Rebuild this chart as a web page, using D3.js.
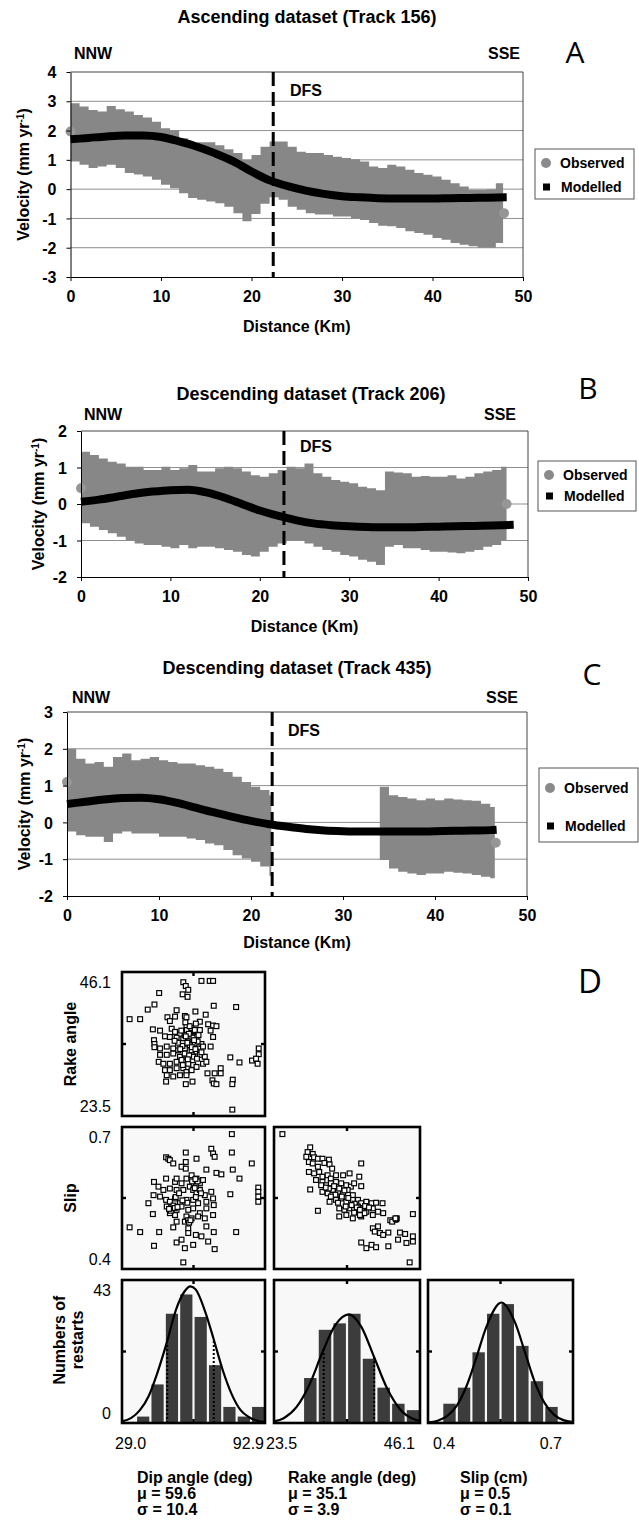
<!DOCTYPE html>
<html>
<head>
<meta charset="utf-8">
<script src="https://cdn.jsdelivr.net/npm/d3@7/dist/d3.min.js"></script>
<style>
  body { margin: 0; background: #fff; }
</style>
</head>
<body>
<svg id="fig" width="639" height="1522"></svg>
<script>
const FONT = '"Liberation Sans", Arial, sans-serif';

// distance ticks shared by the three profiles
const xTicks = [0, 10, 20, 30, 40, 50];

// ---- A : ascending dataset, track 156
const yTicksA = [-3, -2, -1, 0, 1, 2, 3, 4];
const kmA = [0,1,2,3,4,5,6,7,8,9,10,11,12,13,14,15,16,17,18,19,20,21,22,23,24,25,26,27,28,29,30,31,32,33,34,35,36,37,38,39,40,41,42,43,44,45,46,47,47.8];
const upA = [2.93,2.82,2.7,2.65,2.84,2.73,2.65,2.53,2.45,2.3,2.08,2.0,1.74,1.57,1.6,1.6,1.5,1.36,1.23,1.0,1.17,1.45,1.63,1.63,1.45,1.28,1.23,1.23,1.17,1.11,1.06,1.02,0.94,0.77,0.72,0.83,0.77,0.66,0.55,0.49,0.43,0.32,0.2,0.09,-0.02,-0.02,0.0,0.2,0.1];
const loA = [0.94,0.83,0.72,0.77,0.83,0.72,0.55,0.5,0.43,0.32,0.15,0.03,-0.14,-0.3,-0.36,-0.42,-0.48,-0.6,-0.82,-1.1,-0.85,-0.5,-0.28,-0.36,-0.6,-0.7,-0.82,-0.87,-0.87,-0.93,-0.93,-1.0,-1.05,-1.16,-1.25,-1.27,-1.33,-1.44,-1.5,-1.56,-1.67,-1.73,-1.84,-1.9,-1.95,-2.0,-2.0,-1.84,-1.8];
const obsA = [[0, 1.97], [47.9, -0.82]];
const kmModA = [0,2,4,6,8,10,12,14,16,18,20,22,24,26,28,30,32,34,36,38,40,42,44,46,48.2];
const modA = [1.7,1.75,1.8,1.83,1.83,1.78,1.63,1.45,1.22,0.95,0.6,0.3,0.1,-0.05,-0.16,-0.24,-0.28,-0.31,-0.32,-0.32,-0.32,-0.31,-0.3,-0.29,-0.28];

// ---- B : descending dataset, track 206
const yTicksB = [-2, -1, 0, 1, 2];
const kmB = [0,1,2,3,4,5,6,7,8,9,10,11,12,13,14,15,16,17,18,19,20,21,22,23,24,25,26,27,28,29,30,31,32,33,34,35,36,37,38,39,40,41,42,43,44,45,46,47,47.6];
const upB = [1.43,1.34,1.25,1.16,1.11,1.02,1.02,0.93,0.93,1.02,0.93,0.98,1.07,0.89,0.89,0.98,1.02,0.98,0.89,0.79,0.75,0.84,0.93,1.02,0.98,1.11,0.84,0.75,0.66,0.61,0.57,0.47,0.43,0.38,0.89,0.86,0.84,0.75,0.77,0.75,0.75,0.79,0.7,0.75,0.84,0.89,0.93,1.02,1.0];
const loB = [-0.53,-0.62,-0.71,-0.8,-0.9,-0.99,-1.08,-1.12,-1.12,-1.17,-1.21,-1.12,-1.21,-1.17,-1.17,-1.21,-1.26,-1.31,-1.4,-1.44,-1.31,-1.17,-1.08,-0.99,-0.99,-1.08,-1.17,-1.26,-1.31,-1.4,-1.44,-1.53,-1.58,-1.67,-1.17,-1.12,-1.21,-1.21,-1.26,-1.31,-1.31,-1.33,-1.35,-1.31,-1.26,-1.17,-1.12,-0.99,-1.0];
const obsB = [[0, 0.43], [47.6, 0.0]];
const kmModB = [0,2,4,6,8,10,12,14,16,18,20,22,24,26,28,30,32,34,36,38,40,42,44,46,48.4];
const modB = [0.06,0.12,0.2,0.28,0.34,0.38,0.39,0.32,0.18,0.0,-0.18,-0.32,-0.44,-0.53,-0.58,-0.61,-0.63,-0.64,-0.64,-0.63,-0.62,-0.61,-0.6,-0.59,-0.57];

// ---- C : descending dataset, track 435 (two data segments)
const yTicksC = [-2, -1, 0, 1, 2, 3];
const kmC1 = [0,1,2,3,4,5,6,7,8,9,10,11,12,13,14,15,16,17,18,19,20,21,22,22.2];
const upC1 = [2.0,1.73,1.6,1.64,1.51,1.78,1.87,1.69,1.73,1.78,1.69,1.64,1.6,1.6,1.55,1.51,1.46,1.37,1.24,1.1,0.97,0.88,0.74,0.7];
const loC1 = [-0.25,-0.35,-0.39,-0.39,-0.53,-0.3,-0.25,-0.3,-0.3,-0.3,-0.39,-0.39,-0.39,-0.44,-0.48,-0.57,-0.62,-0.75,-0.89,-0.98,-1.07,-1.2,-1.45,-1.6];
const kmC2 = [34,35,36,37,38,39,40,41,42,43,44,45,46,46.5];
const upC2 = [0.97,0.74,0.69,0.65,0.6,0.65,0.6,0.65,0.62,0.6,0.59,0.51,0.42,0.42];
const loC2 = [-1.02,-1.25,-1.34,-1.39,-1.43,-1.39,-1.39,-1.34,-1.37,-1.39,-1.43,-1.48,-1.52,-1.52];
const obsC = [[0, 1.1], [46.6, -0.55]];
const kmModC = [0,2,4,6,8,10,12,14,16,18,20,22,24,26,28,30,32,34,36,38,40,42,44,46,46.7];
const modC = [0.5,0.56,0.62,0.66,0.67,0.63,0.53,0.4,0.27,0.15,0.04,-0.05,-0.12,-0.18,-0.22,-0.24,-0.25,-0.25,-0.25,-0.25,-0.24,-0.23,-0.22,-0.21,-0.2];

// ---- D : inversion restarts
const dipRange = [29.0, 92.9];
const rakeRange = [23.5, 46.1];
const slipRange = [0.4, 0.7];
const countRange = [0, 44.5];

const scatterDipRake = [[56.4,44.5],[57.5,43.9],[58.6,43.3],[64.5,44.7],[68.2,44.7],[69.7,44.7],[56.1,42.6],[58.3,42.2],[45.6,42.8],[43.5,41.0],[40.5,40.2],[32.4,38.7],[37.1,38.7],[53.4,40.1],[61.8,39.9],[66.4,39.4],[70.0,40.8],[80.0,40.6],[49.3,39.0],[50.4,38.4],[52.7,39.1],[57.1,39.2],[57.8,39.0],[63.8,38.3],[67.5,37.9],[69.7,37.7],[71.2,37.6],[42.8,37.1],[46.0,36.9],[51.2,37.2],[52.7,36.7],[54.9,36.3],[58.6,36.7],[59.8,37.1],[60.8,36.4],[62.3,35.9],[63.8,37.0],[68.6,36.9],[69.7,35.9],[48.2,36.0],[50.4,35.9],[53.4,35.8],[56.4,35.7],[58.6,35.4],[60.1,35.1],[61.5,34.9],[64.5,34.8],[43.3,35.4],[43.5,34.8],[43.5,34.3],[46.0,34.1],[49.0,34.4],[51.9,34.1],[54.1,33.8],[57.1,34.1],[60.1,33.8],[62.3,33.6],[65.2,34.4],[68.6,34.4],[46.0,33.1],[49.0,33.1],[51.9,33.3],[54.9,32.8],[57.8,32.8],[60.8,32.8],[63.8,33.1],[66.0,32.8],[45.4,32.0],[47.5,31.7],[50.4,31.7],[53.4,32.0],[55.6,32.3],[58.6,31.7],[60.8,31.5],[62.3,31.2],[65.2,31.7],[66.7,32.0],[77.4,32.7],[81.5,31.9],[87.1,32.2],[89.6,31.7],[90.1,33.2],[90.1,34.1],[88.9,32.5],[48.2,30.7],[50.4,30.7],[53.4,31.0],[56.4,31.0],[57.8,30.4],[60.1,30.7],[49.0,29.9],[51.9,29.7],[54.9,29.9],[57.8,29.9],[48.7,28.9],[57.5,28.5],[60.5,28.9],[67.2,30.2],[70.4,30.2],[73.1,31.0],[73.1,30.2],[69.4,29.1],[70.0,28.6],[71.2,28.5],[78.5,29.2],[78.3,28.5],[78.3,24.5],[57.0,36.2],[59.0,35.6],[61.0,36.8],[56.0,34.5],[59.3,34.6],[62.8,35.2],[57.8,37.6],[55.5,36.9],
  [58.0,37.0],[59.5,36.0],[60.5,35.8],[61.2,35.4],[58.9,36.4],[57.5,36.0],[60.0,37.3],[61.5,37.0],[59.2,37.6],[58.2,35.0],[60.2,34.3],[61.8,34.0],[57.0,33.3],[59.0,33.0],[62.5,32.5],[56.2,31.5],[58.4,32.4],[54.0,35.0],[55.0,34.0],[52.5,35.3],[63.2,36.2],[62.0,38.0],[64.5,33.5],[57.3,38.2]];

const scatterDipSlip = [[78.1,0.685],[57.5,0.646],[48.7,0.636],[49.7,0.633],[50.4,0.630],[51.9,0.623],[57.5,0.626],[62.3,0.633],[68.9,0.654],[69.7,0.644],[70.4,0.637],[78.1,0.646],[87.0,0.623],[55.6,0.616],[57.5,0.612],[66.7,0.610],[71.2,0.603],[73.4,0.600],[78.5,0.610],[81.5,0.591],[48.7,0.591],[52.7,0.584],[53.4,0.591],[55.6,0.581],[57.8,0.591],[60.1,0.598],[62.3,0.591],[63.8,0.581],[65.2,0.588],[43.3,0.584],[45.3,0.574],[47.5,0.567],[50.4,0.570],[53.4,0.567],[56.4,0.567],[59.3,0.574],[60.8,0.567],[62.3,0.560],[63.8,0.567],[66.0,0.556],[68.9,0.563],[69.7,0.549],[43.1,0.556],[46.0,0.553],[48.7,0.546],[50.4,0.542],[52.7,0.549],[54.9,0.539],[57.8,0.546],[60.8,0.546],[63.0,0.539],[66.7,0.542],[70.0,0.535],[77.4,0.558],[89.9,0.572],[89.9,0.563],[89.9,0.553],[89.9,0.542],[40.8,0.539],[49.0,0.532],[51.2,0.528],[53.4,0.525],[55.6,0.532],[58.6,0.525],[60.8,0.528],[63.8,0.518],[66.7,0.528],[42.8,0.516],[50.4,0.518],[52.7,0.514],[57.8,0.511],[60.1,0.507],[63.0,0.511],[66.0,0.507],[69.7,0.514],[53.4,0.500],[57.1,0.500],[32.4,0.488],[37.1,0.478],[45.6,0.478],[51.9,0.488],[58.6,0.486],[66.7,0.490],[70.0,0.478],[80.0,0.478],[58.6,0.476],[62.0,0.472],[64.5,0.469],[67.5,0.458],[43.3,0.449],[53.4,0.456],[55.6,0.462],[57.1,0.444],[60.8,0.451],[70.4,0.442],[56.4,0.414],
  [61.0,0.580],[62.0,0.575],[61.5,0.571],[60.3,0.585],[62.8,0.585],[61.8,0.590],[51.0,0.530],[52.0,0.534],[50.8,0.523],[52.6,0.529],[53.8,0.531],[50.0,0.527],[58.5,0.503],[59.0,0.498],[59.6,0.503],[58.2,0.540],[56.0,0.545],[62.0,0.552],[64.3,0.560],[53.0,0.552],[54.5,0.560]];

const scatterRakeSlip = [[24.8,0.685],[29.1,0.657],[28.7,0.647],[28.5,0.637],[29.5,0.643],[29.7,0.636],[30.3,0.633],[31.0,0.633],[32.0,0.631],[28.9,0.626],[29.5,0.623],[30.3,0.616],[31.3,0.624],[32.1,0.621],[32.5,0.612],[37.0,0.623],[28.9,0.605],[29.7,0.602],[30.5,0.605],[31.0,0.595],[31.8,0.598],[32.3,0.591],[33.1,0.598],[34.2,0.598],[35.2,0.602],[36.7,0.595],[30.0,0.588],[31.0,0.584],[31.6,0.577],[32.3,0.581],[33.1,0.584],[33.9,0.581],[34.7,0.577],[35.4,0.574],[35.9,0.581],[37.0,0.575],[29.1,0.568],[31.0,0.563],[31.8,0.560],[32.6,0.567],[33.4,0.563],[34.2,0.560],[34.9,0.567],[35.7,0.556],[32.1,0.542],[33.1,0.546],[33.9,0.549],[34.7,0.542],[35.7,0.546],[36.5,0.546],[37.0,0.539],[37.8,0.542],[38.6,0.539],[39.3,0.540],[40.3,0.539],[30.3,0.523],[33.6,0.528],[34.4,0.525],[35.2,0.528],[35.9,0.525],[36.5,0.532],[37.3,0.528],[37.8,0.521],[38.8,0.528],[39.6,0.521],[40.4,0.518],[33.6,0.511],[34.7,0.514],[35.7,0.507],[37.0,0.511],[37.5,0.518],[38.8,0.514],[42.5,0.507],[42.2,0.504],[45.0,0.516],[38.8,0.486],[39.6,0.490],[39.1,0.479],[39.9,0.476],[41.2,0.477],[40.4,0.472],[43.0,0.477],[43.8,0.474],[45.0,0.469],[42.7,0.462],[45.0,0.458],[44.0,0.455],[37.0,0.456],[37.8,0.444],[38.6,0.451],[39.3,0.446],[41.2,0.448],[44.5,0.414],
  [32.0,0.570],[32.8,0.575],[33.6,0.570],[34.4,0.566],[33.0,0.557],[32.3,0.553],[34.0,0.553],[35.0,0.550],[36.0,0.538],[36.3,0.530],[36.8,0.525],[35.5,0.535],[34.6,0.532],[37.6,0.533],[38.2,0.530],[33.4,0.540],[31.5,0.572],[30.8,0.577],[35.9,0.519],[36.8,0.514],[41.5,0.503],[41.8,0.500],[42.4,0.505],[42.3,0.507]];

// histogram counts, 10 equal bins over each range
const countsDip = [0, 2, 12, 34, 40, 33, 18, 5, 2, 5];
const countsRake = [0, 0, 14, 29, 31, 34, 20, 11, 6, 4];
const countsSlip = [0, 6, 11, 22, 34, 37, 24, 13, 5, 0];

// fitted curves
const curveDipX = [29, 33, 37, 41, 45, 49, 53, 57, 59.6, 62, 66, 70, 74, 78, 82, 86, 90, 92.9];
const curveDipY = [0.5, 1.5, 4, 8.5, 16, 25, 35, 41, 42.5, 41.5, 35, 26, 16.5, 9, 4, 1.7, 0.6, 0.3];
const curveRakeX = [23.5, 25, 27, 29, 31, 33, 35.1, 37, 39, 41, 43, 45, 46.1];
const curveRakeY = [0.5, 1.5, 5, 12, 22, 30.5, 33.8, 30, 20.5, 10.8, 4.3, 1.3, 0.6];
const curveSlipX = [0.4, 0.42, 0.44, 0.46, 0.48, 0.5, 0.52, 0.552, 0.58, 0.6, 0.62, 0.64, 0.66, 0.68, 0.7];
const curveSlipY = [0.2, 0.7, 2.2, 5.5, 11.6, 20.3, 29.6, 37.5, 31.3, 22.3, 13.1, 6.5, 2.7, 0.9, 0.3];

// mean +/- one sigma markers (position, height)
const sdDip = [[49.2, 25], [70.0, 26]];
const sdRake = [[31.2, 23], [39.0, 20.5]];

const yLabelsD = [['46.1', '23.5'], ['0.7', '0.4'], ['43', '0']];
const xLabelsD = [['29.0', '92.9'], ['23.5', '46.1'], ['0.4', '0.7']];
const captions = [
  ['Dip angle (deg)', 'μ = 59.6', 'σ = 10.4'],
  ['Rake angle (deg)', 'μ = 35.1', 'σ = 3.9'],
  ['Slip (cm)', 'μ = 0.5', 'σ = 0.1']
];

const svg = d3.select('#fig');

function boldText(g, x, y, str, size, anchor) {
  return g.append('text')
    .attr('x', x).attr('y', y)
    .attr('dy', '0.35em')
    .attr('text-anchor', anchor || 'start')
    .attr('font-family', FONT)
    .attr('font-weight', 'bold')
    .attr('font-size', size)
    .text(str);
}

function styleAxis(a) {
  a.attr('font-family', FONT).attr('font-size', 16).attr('font-weight', 'bold');
  a.select('.domain').attr('stroke', '#000');
  a.selectAll('.tick line').attr('stroke', '#000');
}

function drawProfile(p) {
  const g = svg.append('g');
  const x = d3.scaleLinear().domain([0, 50]).range([p.left, p.right]);
  const y = d3.scaleLinear().domain(d3.extent(p.yTicks)).range([p.bottom, p.top]);

  g.selectAll('.grid')
    .data(p.yTicks.slice(1, -1))
    .enter()
    .append('line')
    .attr('x1', p.left).attr('x2', p.right)
    .attr('y1', d => y(d)).attr('y2', d => y(d))
    .attr('stroke', '#8f8f8f')
    .attr('stroke-width', 1);

  g.append('path')
    .attr('d', `M${p.left},${p.top}H${p.right}V${p.bottom}`)
    .attr('fill', 'none')
    .attr('stroke', '#444');

  const band = d3.area()
    .curve(d3.curveStepAfter)
    .x(d => x(d[0]))
    .y0(d => y(d[2]))
    .y1(d => y(d[1]));

  p.bands.forEach(b => {
    g.append('path')
      .datum(d3.zip(b[0], b[1], b[2]))
      .attr('d', band)
      .attr('fill', '#878787');
  });

  g.selectAll('.obs')
    .data(p.obs)
    .enter()
    .append('circle')
    .attr('cx', d => x(d[0])).attr('cy', d => y(d[1]))
    .attr('r', 5)
    .attr('fill', '#969696');

  const model = d3.line().curve(d3.curveMonotoneX).x(d => x(d[0])).y(d => y(d[1]));
  g.append('path')
    .datum(d3.zip(p.modKm, p.mod))
    .attr('d', model)
    .attr('fill', 'none')
    .attr('stroke', '#000')
    .attr('stroke-width', 8);

  g.append('line')
    .attr('x1', x(p.dfs)).attr('x2', x(p.dfs))
    .attr('y1', p.top).attr('y2', p.bottom)
    .attr('stroke', '#000')
    .attr('stroke-width', 3)
    .attr('stroke-dasharray', '14,6');
  boldText(g, p.dfsLabel[0], p.dfsLabel[1], 'DFS', 16);

  const ax = g.append('g')
    .attr('transform', `translate(0,${p.bottom})`)
    .call(d3.axisBottom(x).tickValues(xTicks).tickSize(4).tickSizeOuter(0).tickFormat(d => String(d)));
  styleAxis(ax);
  ax.selectAll('text').attr('y', 19).attr('dy', '0.35em');

  const ay = g.append('g')
    .attr('transform', `translate(${p.left},0)`)
    .call(d3.axisLeft(y).tickValues(p.yTicks).tickSize(4).tickSizeOuter(0).tickFormat(d => String(d)));
  styleAxis(ay);
  ay.selectAll('text').attr('x', -14).attr('dy', '0.35em');

  boldText(g, (p.left + p.right) / 2, p.bottom + p.distDy, 'Distance (Km)', 16, 'middle');

  const vl = g.append('text')
    .attr('transform', `translate(${p.velX},${(p.top + p.bottom) / 2}) rotate(-90)`)
    .attr('dy', '0.35em')
    .attr('text-anchor', 'middle')
    .attr('font-family', FONT).attr('font-weight', 'bold').attr('font-size', 16);
  vl.append('tspan').text('Velocity (mm yr');
  vl.append('tspan').attr('font-size', 10).attr('baseline-shift', 'super').text('-1');
  vl.append('tspan').text(')');

  boldText(g, p.titleX, p.titleY, p.title, 18, 'middle');
  boldText(g, p.nnwX, p.dirY, 'NNW', 16);
  boldText(g, p.sseX, p.dirY, 'SSE', 16, 'end');

  g.append('text')
    .attr('x', p.letter[0]).attr('y', p.letter[1])
    .attr('dy', '0.35em')
    .attr('text-anchor', 'middle')
    .attr('font-family', '"Open Sans", "DejaVu Sans", sans-serif')
    .attr('font-size', 30)
    .text(p.letter[2]);

  const L = p.legend;
  g.append('rect')
    .attr('x', L.x).attr('y', L.y).attr('width', L.w).attr('height', L.h)
    .attr('fill', '#fff').attr('stroke', '#555');
  g.append('circle')
    .attr('cx', L.x + 11).attr('cy', L.obsY).attr('r', 5).attr('fill', '#8a8a8a');
  g.append('rect')
    .attr('x', L.x + 8).attr('y', L.modY - 3.5).attr('width', 7).attr('height', 7).attr('fill', '#000');
  boldText(g, L.x + 25, L.obsY, 'Observed', 14);
  boldText(g, L.x + 26, L.modY, 'Modelled', 14);
}

drawProfile({
  left: 70.5, right: 523, top: 72, bottom: 277, yTicks: yTicksA,
  bands: [[kmA, upA, loA]], obs: obsA, modKm: kmModA, mod: modA,
  dfs: 22.4, dfsLabel: [290, 90], distDy: 49, velX: 23,
  title: 'Ascending dataset (Track 156)', titleX: 307, titleY: 17,
  nnwX: 74, sseX: 520, dirY: 53, letter: [575, 52, 'A'],
  legend: { x: 535, y: 149, w: 99, h: 50, obsY: 163, modY: 187 }
});

drawProfile({
  left: 81, right: 528, top: 431, bottom: 577, yTicks: yTicksB,
  bands: [[kmB, upB, loB]], obs: obsB, modKm: kmModB, mod: modB,
  dfs: 22.7, dfsLabel: [300, 446], distDy: 49, velX: 38,
  title: 'Descending dataset (Track 206)', titleX: 311, titleY: 394,
  nnwX: 84, sseX: 516, dirY: 414, letter: [588, 388, 'B'],
  legend: { x: 538, y: 461, w: 98, h: 50, obsY: 475, modY: 496 }
});

drawProfile({
  left: 67, right: 527, top: 712, bottom: 896, yTicks: yTicksC,
  bands: [[kmC1, upC1, loC1], [kmC2, upC2, loC2]], obs: obsC, modKm: kmModC, mod: modC,
  dfs: 22.3, dfsLabel: [288, 730], distDy: 46, velX: 24,
  title: 'Descending dataset (Track 435)', titleX: 297, titleY: 668,
  nnwX: 72, sseX: 518, dirY: 697, letter: [592, 674, 'C'],
  legend: { x: 539, y: 768, w: 99, h: 74, obsY: 788, modY: 826 }
});

// ---- panel D
const cols = [{ x0: 122, x1: 265 }, { x0: 274, x1: 420 }, { x0: 428, x1: 573 }];
const rows = [{ y0: 972, y1: 1116 }, { y0: 1127, y1: 1269 }, { y0: 1280, y1: 1423 }];
const dg = svg.append('g');

const xDip = d3.scaleLinear().domain(dipRange).range([cols[0].x0, cols[0].x1]);
const xRake = d3.scaleLinear().domain(rakeRange).range([cols[1].x0, cols[1].x1]);
const xSlip = d3.scaleLinear().domain(slipRange).range([cols[2].x0, cols[2].x1]);
const yRake = d3.scaleLinear().domain(rakeRange).range([rows[0].y1, rows[0].y0]);
const ySlip = d3.scaleLinear().domain(slipRange).range([rows[1].y1, rows[1].y0]);
const yCount = d3.scaleLinear().domain(countRange).range([rows[2].y1, rows[2].y0]);

function boxBg(c, r) {
  dg.append('rect')
    .attr('x', c.x0).attr('y', r.y0).attr('width', c.x1 - c.x0).attr('height', r.y1 - r.y0)
    .attr('fill', '#f8f8f8');
}
function boxFrame(c, r) {
  dg.append('rect')
    .attr('x', c.x0).attr('y', r.y0).attr('width', c.x1 - c.x0).attr('height', r.y1 - r.y0)
    .attr('fill', 'none').attr('stroke', '#000').attr('stroke-width', 2.6);
  const cx = (c.x0 + c.x1) / 2, cy = (r.y0 + r.y1) / 2;
  const marks = [[cx, r.y0, cx, r.y0 + 4], [cx, r.y1, cx, r.y1 - 4], [c.x0, cy, c.x0 + 4, cy], [c.x1, cy, c.x1 - 4, cy]];
  dg.selectAll(null).data(marks).enter().append('line')
    .attr('x1', d => d[0]).attr('y1', d => d[1]).attr('x2', d => d[2]).attr('y2', d => d[3])
    .attr('stroke', '#000').attr('stroke-width', 2.4);
}

function scatter(c, r, pts, sx, sy) {
  boxBg(c, r);
  dg.append('g').selectAll('rect')
    .data(pts)
    .enter()
    .append('rect')
    .attr('x', d => sx(d[0]) - 2.4).attr('y', d => sy(d[1]) - 2.4)
    .attr('width', 4.8).attr('height', 4.8)
    .attr('fill', '#fff').attr('stroke', '#000').attr('stroke-width', 1.2);
  boxFrame(c, r);
}

function histogram(c, counts, sx, cx, cy, sd) {
  const r = rows[2];
  boxBg(c, r);
  const bins = d3.scaleBand().domain(counts.map((d, i) => i)).range([c.x0, c.x1]).paddingInner(0.15).paddingOuter(0.05);
  dg.append('g').selectAll('rect')
    .data(counts)
    .enter()
    .append('rect')
    .attr('x', (d, i) => bins(i)).attr('width', bins.bandwidth())
    .attr('y', d => yCount(d)).attr('height', d => yCount(0) - yCount(d))
    .attr('fill', '#3c3c3c');
  if (sd) {
    dg.selectAll(null).data(sd).enter().append('line')
      .attr('x1', d => sx(d[0])).attr('x2', d => sx(d[0]))
      .attr('y1', yCount(0)).attr('y2', d => yCount(d[1]))
      .attr('stroke', '#000').attr('stroke-width', 2).attr('stroke-dasharray', '2,2');
  }
  const curve = d3.line().curve(d3.curveMonotoneX).x(d => sx(d[0])).y(d => yCount(d[1]));
  dg.append('path')
    .datum(d3.zip(cx, cy))
    .attr('d', curve)
    .attr('fill', 'none').attr('stroke', '#000').attr('stroke-width', 2.2);
  boxFrame(c, r);
}

scatter(cols[0], rows[0], scatterDipRake, xDip, yRake);
scatter(cols[0], rows[1], scatterDipSlip, xDip, ySlip);
scatter(cols[1], rows[1], scatterRakeSlip, xRake, ySlip);
histogram(cols[0], countsDip, xDip, curveDipX, curveDipY, sdDip);
histogram(cols[1], countsRake, xRake, curveRakeX, curveRakeY, sdRake);
histogram(cols[2], countsSlip, xSlip, curveSlipX, curveSlipY, null);

function plainText(x, y, str, anchor) {
  dg.append('text')
    .attr('x', x).attr('y', y).attr('dy', '0.35em')
    .attr('text-anchor', anchor)
    .attr('font-family', FONT).attr('font-size', 16)
    .text(str);
}

rows.forEach((r, i) => {
  plainText(111, r.y0 + 10, yLabelsD[i][0], 'end');
  plainText(111, r.y1 - 10, yLabelsD[i][1], 'end');
});

const histLabelX = [[115, 264], [266, 415], [433, 562]];
histLabelX.forEach((p, i) => {
  plainText(p[0], 1443, xLabelsD[i][0], 'start');
  plainText(p[1], 1443, xLabelsD[i][1], 'end');
});

const capX = [137, 288, 460];
captions.forEach((lines, i) => {
  lines.forEach((s, j) => boldText(dg, capX[i], 1477 + j * 16, s, 16));
});

function sideLabel(x, y, str) {
  dg.append('text')
    .attr('transform', `translate(${x},${y}) rotate(-90)`)
    .attr('dy', '0.35em')
    .attr('text-anchor', 'middle')
    .attr('font-family', FONT).attr('font-weight', 'bold').attr('font-size', 16)
    .text(str);
}
sideLabel(70, 1044, 'Rake angle');
sideLabel(70, 1198, 'Slip');
sideLabel(59, 1340, 'Numbers of');
sideLabel(77, 1340, 'restarts');

dg.append('text')
  .attr('x', 590).attr('y', 981).attr('dy', '0.35em')
  .attr('text-anchor', 'middle')
  .attr('font-family', '"Open Sans", "DejaVu Sans", sans-serif')
  .attr('font-size', 33)
  .text('D');
</script>
</body>
</html>
